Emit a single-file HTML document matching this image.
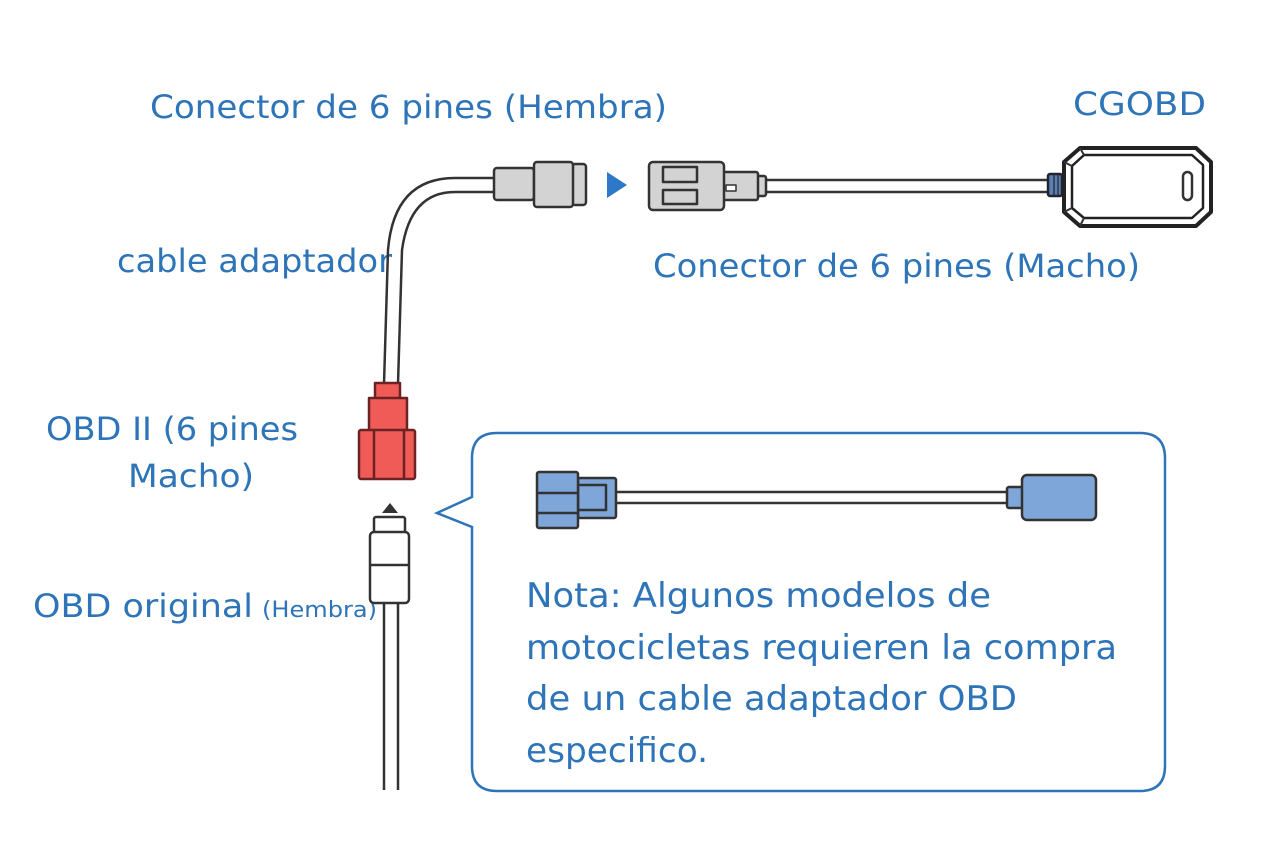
<!DOCTYPE html>
<html><head><meta charset="utf-8"><style>
html,body{margin:0;padding:0;background:#fff;}
svg{display:block;}
text{font-family:"DejaVu Sans","Liberation Sans",sans-serif;fill:#2e74b8;}
</style></head><body>
<svg width="1280" height="853" viewBox="0 0 1280 853" xmlns="http://www.w3.org/2000/svg">
<rect width="1280" height="853" fill="#fff"/>
<!-- texts -->
<text x="150" y="118" font-size="32" textLength="517" lengthAdjust="spacingAndGlyphs">Conector de 6 pines (Hembra)</text>
<text x="1073" y="115" font-size="32" textLength="133" lengthAdjust="spacingAndGlyphs">CGOBD</text>
<text x="117" y="272" font-size="32" textLength="275" lengthAdjust="spacingAndGlyphs">cable adaptador</text>
<text x="653" y="277" font-size="32" textLength="487" lengthAdjust="spacingAndGlyphs">Conector de 6 pines (Macho)</text>
<text x="46" y="440" font-size="32" textLength="252" lengthAdjust="spacingAndGlyphs">OBD II (6 pines</text>
<text x="128" y="487" font-size="32" textLength="126" lengthAdjust="spacingAndGlyphs">Macho)</text>
<text x="33" y="617" font-size="32" textLength="220" lengthAdjust="spacingAndGlyphs">OBD original</text>
<text x="262" y="617" font-size="22" textLength="115" lengthAdjust="spacingAndGlyphs">(Hembra)</text>

<g stroke="#333" stroke-width="2.5" fill="none" stroke-linejoin="round">
<!-- adapter cable -->
<path d="M384,384 L388,250 Q394,178 455,178 L494,178"/>
<path d="M398,384 L402,250 Q410,192 455,192 L494,192"/>
<!-- female connector -->
<rect x="494" y="168" width="40" height="32" rx="3" fill="#d3d3d3"/>
<rect x="572" y="164" width="14" height="41" rx="3" fill="#d3d3d3"/>
<rect x="534" y="162" width="39" height="45" rx="3" fill="#d3d3d3"/>
<!-- male connector -->
<path d="M765,180 L1048,180 M765,192 L1048,192"/>
<rect x="757" y="176" width="9" height="20" rx="2" fill="#d3d3d3"/>
<rect x="723" y="172" width="35" height="28" rx="2" fill="#d3d3d3"/>
<rect x="649" y="162" width="75" height="48" rx="4" fill="#d3d3d3"/>
<rect x="663" y="167" width="34" height="15" fill="#d3d3d3"/>
<rect x="663" y="190" width="34" height="14" fill="#d3d3d3"/>
<rect x="726" y="185" width="10" height="6" fill="#fff" stroke-width="1.5"/>
<!-- CGOBD -->
<rect x="1048" y="174" width="14" height="22" rx="2" fill="#5a7fb0" stroke="#223"/>
<path d="M1054,174 V196 M1058,174 V196" stroke="#223" stroke-width="1.2"/>
<path d="M1080,148 L1196,148 L1211,162 L1211,212 L1196,226 L1080,226 L1064,212 L1064,162 Z" stroke="#222" stroke-width="4" fill="#fff"/>
<path d="M1084,155 L1192,155 L1203,165 L1203,208 L1192,218 L1084,218 L1072,208 L1072,166 Z" stroke="#222" stroke-width="2.5"/>
<path d="M1064,162 L1072,166 M1080,148 L1084,155 M1064,212 L1072,208 M1080,226 L1084,218" stroke-width="2"/>
<rect x="1183" y="172" width="9" height="28" rx="4.5" stroke-width="2.5"/>
<!-- red connector -->
<rect x="375" y="383" width="25" height="16" fill="#f05a57" stroke="#6b2222"/>
<rect x="369" y="398" width="38" height="33" fill="#f05a57" stroke="#6b2222"/>
<rect x="359" y="430" width="56" height="49" rx="2" fill="#f05a57" stroke="#6b2222"/>
<path d="M374,430 V479 M404,430 V479" stroke="#6b2222"/>
<!-- white connector -->
<path d="M384,603 V790 M398,603 V790"/>
<rect x="374" y="517" width="31" height="16" rx="2" fill="#fff"/>
<rect x="370" y="532" width="39" height="71" rx="4" fill="#fff"/>
<path d="M370,565 H409"/>
</g>
<polygon points="382,513 390,503 398,513" fill="#333"/>
<polygon points="607,172 627,185 607,198" fill="#2e78c8"/>

<!-- callout -->
<path d="M497,433 H1140 Q1165,433 1165,458 V766 Q1165,791 1140,791 H497 Q472,791 472,766 V527 L437,513 L472,497 V458 Q472,433 497,433 Z" fill="#fff" stroke="#2e74b8" stroke-width="2.5"/>
<g stroke="#333" stroke-width="2.5" fill="#7ea6d8" stroke-linejoin="round">
<path d="M616,492 H1008 M616,503 H1008" fill="none"/>
<rect x="578" y="478" width="38" height="40" rx="2"/>
<rect x="578" y="485" width="28" height="25" fill="#7ea6d8"/>
<rect x="537" y="472" width="41" height="56" rx="2"/>
<path d="M537,493 H578 M537,513 H578" fill="none"/>
<rect x="1007" y="487" width="16" height="21" rx="2"/>
<rect x="1022" y="475" width="74" height="45" rx="5"/>
</g>
<text x="526" y="607" font-size="34" textLength="465" lengthAdjust="spacingAndGlyphs">Nota: Algunos modelos de</text>
<text x="526" y="659" font-size="34" textLength="591" lengthAdjust="spacingAndGlyphs">motocicletas requieren la compra</text>
<text x="526" y="710" font-size="34" textLength="491" lengthAdjust="spacingAndGlyphs">de un cable adaptador OBD</text>
<text x="526" y="762" font-size="34" textLength="182" lengthAdjust="spacingAndGlyphs">especifico.</text>
</svg>
</body></html>
